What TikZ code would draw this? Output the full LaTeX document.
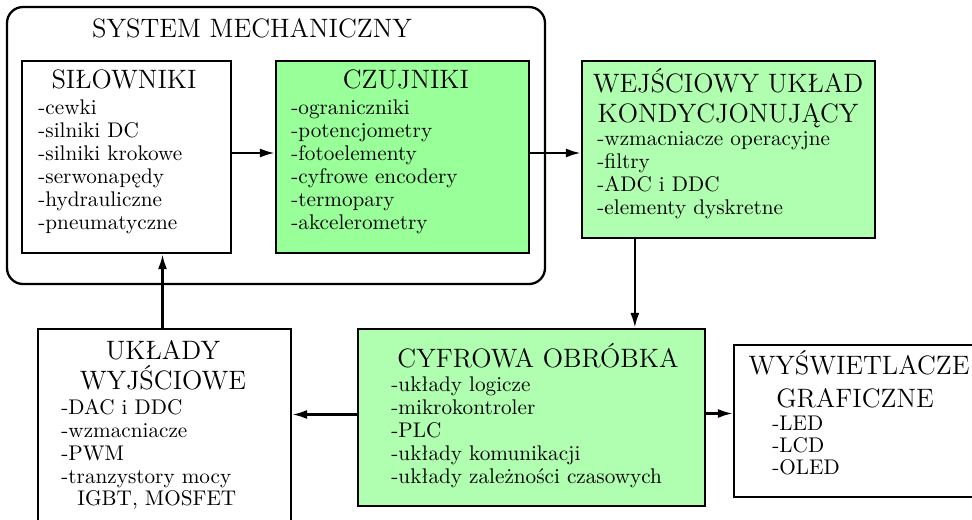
\documentclass[tikz,border=0pt]{standalone}
\usepackage{fontspec}
\usetikzlibrary{fit,arrows.meta}
\definecolor{gA}{RGB}{153,255,153}
\definecolor{gB}{RGB}{176,255,176}
\newcommand\ttlfont{\fontsize{13.3}{15}\selectfont}
\newcommand\bdyfont{\fontsize{10.6}{12}\selectfont}
\begin{document}
\begin{tikzpicture}[x=0.5pt,y=-0.5pt,
  box/.style={draw, line width=1.15pt, inner sep=0pt},
  ttl/.style={font=\ttlfont, anchor=base, inner sep=0pt},
  itm/.style={font=\bdyfont, anchor=base west, inner sep=0pt},
  arr/.style={line width=1.15pt, -{Latex[length=7.5pt,width=4.5pt]}}]
\useasboundingbox (0,0) rectangle (972,519);
\clip (0,0) rectangle (972,519);
% outer mechanical system
\node[box, rounded corners=8pt, fit={(7,7) (545,284)}] (mech) {};
\node[ttl] (mechT) at (252,38) {SYSTEM MECHANICZNY};
% silowniki
\node[box, fit={(22,61) (231,253)}] (sil) {};
\node[ttl] (silT) at (124,89) {SIŁOWNIKI};
\foreach \t [count=\i] in {-cewki,-silniki DC,-silniki krokowe,-serwonapędy,-hydrauliczne,-pneumatyczne}
  \node[itm] (sil\i) at (38,{91+23*\i}) {\t};
% czujniki
\node[box, fill=gA, fit={(276,61) (529,253)}] (czu) {};
\node[ttl] (czuT) at (406,89) {CZUJNIKI};
\foreach \t [count=\i] in {-ograniczniki,-potencjometry,-fotoelementy,-cyfrowe encodery,-termopary,-akcelerometry}
  \node[itm] (czu\i) at (291,{91+23*\i}) {\t};
% wejsciowy
\node[box, fill=gB, fit={(582,61) (875,238)}] (wej) {};
\node[ttl] (wejT1) at (728,92) {WEJŚCIOWY UKŁAD};
\node[ttl] (wejT2) at (728,122) {KONDYCJONUJĄCY};
\foreach \t [count=\i] in {-wzmacniacze operacyjne,-filtry,-ADC i DDC,-elementy dyskretne}
  \node[itm] (wej\i) at (597,{122+23*\i}) {\t};
% cyfrowa
\node[box, fill=gB, fit={(358,329) (705,506)}] (cyf) {};
\node[ttl] (cyfT) at (538,367) {CYFROWA OBRÓBKA};
\foreach \t [count=\i] in {-układy logicze,-mikrokontroler,-PLC,-układy komunikacji,-układy zależności czasowych}
  \node[itm] (cyf\i) at (391,{368+23*\i}) {\t};
% uklady wyjsciowe
\node[box, fit={(38,329) (291,540)}] (ukl) {};
\node[ttl] (uklT1) at (163,359) {UKŁADY};
\node[ttl] (uklT2) at (163,389) {WYJŚCIOWE};
\foreach \t [count=\i] in {-DAC i DDC,-wzmacniacze,-PWM,-tranzystory mocy}
  \node[itm] (ukl\i) at (61,{391+23*\i}) {\t};
\node[itm] (ukl5) at (77,505) {IGBT, MOSFET};
% wyswietlacze
\node[box, fit={(734,345) (990,497)}] (wys) {};
\node[ttl] (wysT1) at (859,374) {WYŚWIETLACZE};
\node[ttl] (wysT2) at (855,407) {GRAFICZNE};
\foreach \t [count=\i] in {-LED,-LCD,-OLED}
  \node[itm] (wys\i) at (772,{408+22*\i}) {\t};
% connectors
\draw[arr] ([yshift=2pt]sil.east) -- ([yshift=2pt]czu.west);
\draw[arr] ([yshift=2pt]czu.east) -- ([yshift=2pt]czu.east -| wej.west);
\draw[arr] ([xshift=27pt]wej.south west) -- ([xshift=27pt]wej.south west |- cyf.north);
\draw[arr] ([yshift=1.5pt]cyf.west) -- ([yshift=1.5pt]cyf.west -| ukl.east);
\draw[arr] ([yshift=2pt]cyf.east) -- ([yshift=2pt]cyf.east -| wys.west);
\draw[arr] ([xshift=-1pt]ukl.north) -- ([xshift=-1pt]ukl.north |- sil.south);
\end{tikzpicture}
\end{document}
